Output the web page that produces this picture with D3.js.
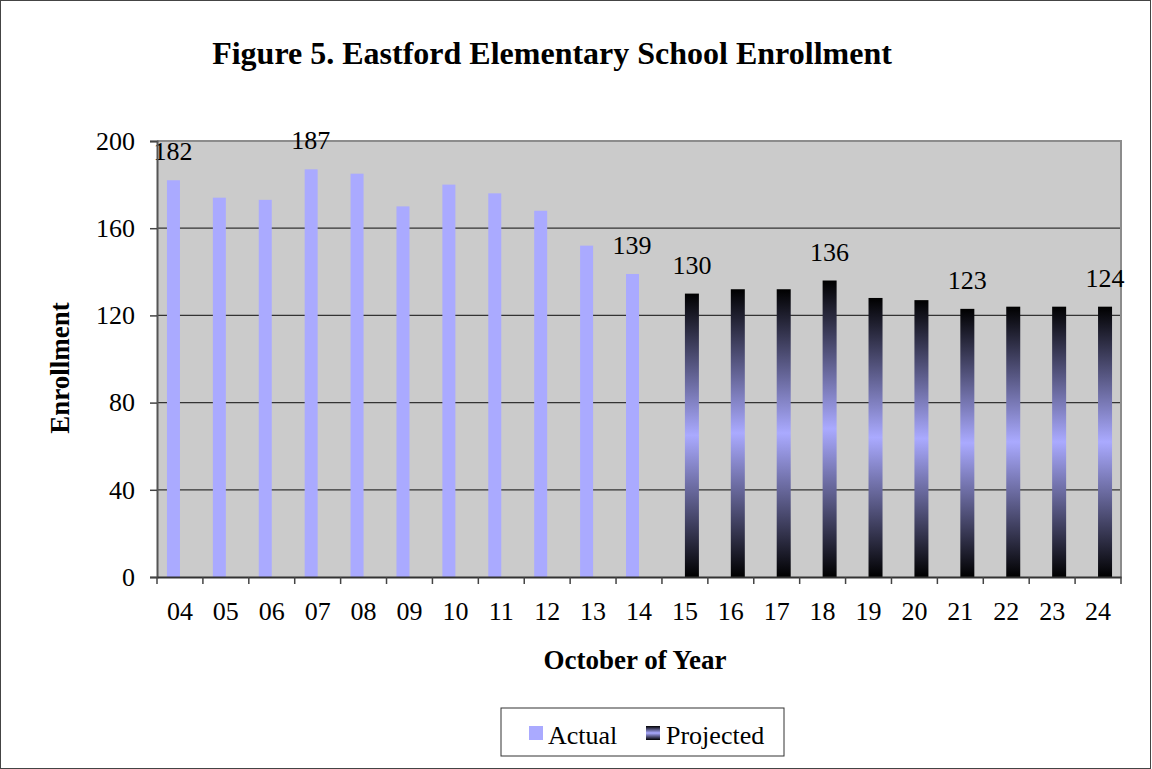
<!DOCTYPE html>
<html lang="en">
<head>
  <meta charset="utf-8" />
  <title>Eastford Elementary School Enrollment</title>
  <script src="https://d3js.org/d3.v7.min.js"></script>
  <style>
    body { margin: 0; background: #fff; }
    text { font-family: "Liberation Serif", "Times New Roman", serif; fill: #000; }
  </style>
</head>
<body>
<script>
  // data
  var years = ["04","05","06","07","08","09","10","11","12","13","14",
               "15","16","17","18","19","20","21","22","23","24"];
  var actual = [182,174,173,187,185,170,180,176,168,152,139,
                null,null,null,null,null,null,null,null,null,null];
  var projected = [null,null,null,null,null,null,null,null,null,null,null,
                   130,132,132,136,128,127,123,124,124,124];
  var labelled = ["04","07","14","15","18","21","24"];
  var yTicks = [0,40,80,120,160,200];

  var width = 1152, height = 769;
  var margin = {top: 141, left: 157, right: 1121, bottom: 577};

  var svg = d3.select("body").append("svg")
    .attr("width", width)
    .attr("height", height);

  var defs = svg.append("defs");
  var grad = defs.append("linearGradient")
    .attr("id", "projGrad")
    .attr("x1", 0).attr("y1", 0).attr("x2", 0).attr("y2", 1);
  grad.append("stop").attr("offset", "0%").attr("stop-color", "#000");
  grad.append("stop").attr("offset", "50%").attr("stop-color", "#aaaaff");
  grad.append("stop").attr("offset", "100%").attr("stop-color", "#000");

  // outer frame
  svg.append("rect")
    .attr("x", 0.5).attr("y", 0.5)
    .attr("width", width - 2).attr("height", height - 1)
    .attr("fill", "none").attr("stroke", "#444");

  var x = d3.scaleBand().domain(years).range([margin.left, margin.right]);
  var y = d3.scaleLinear().domain([0, 200]).range([margin.bottom, margin.top]);
  var barW = 14;

  // plot background
  svg.append("rect")
    .attr("x", margin.left).attr("y", margin.top)
    .attr("width", margin.right - margin.left)
    .attr("height", margin.bottom - margin.top)
    .attr("fill", "#cbcbcb");

  // gridlines
  svg.selectAll("line.grid")
    .data(yTicks.filter(function(d) { return d > 0 && d < 200; }))
    .enter().append("line")
    .attr("class", "grid")
    .attr("x1", margin.left).attr("x2", margin.right)
    .attr("y1", function(d) { return y(d); })
    .attr("y2", function(d) { return y(d); })
    .attr("stroke", "#333").attr("stroke-width", 1.2);

  // plot border top & right
  svg.append("path")
    .attr("d", "M" + margin.left + "," + margin.top + "H" + margin.right + "V" + margin.bottom)
    .attr("fill", "none").attr("stroke", "#8c8c8c").attr("stroke-width", 2);

  // bars
  svg.selectAll("rect.actual")
    .data(years.map(function(d, i) { return {yr: d, v: actual[i]}; }).filter(function(d) { return d.v != null; }))
    .enter().append("rect")
    .attr("class", "actual")
    .attr("x", function(d) { return x(d.yr) + x.bandwidth() / 2 - barW + 1; })
    .attr("y", function(d) { return y(d.v); })
    .attr("width", barW - 1)
    .attr("height", function(d) { return y(0) - y(d.v); })
    .attr("fill", "#aaaaff");

  svg.selectAll("rect.proj")
    .data(years.map(function(d, i) { return {yr: d, v: projected[i]}; }).filter(function(d) { return d.v != null; }))
    .enter().append("rect")
    .attr("class", "proj")
    .attr("x", function(d) { return x(d.yr) + x.bandwidth() / 2; })
    .attr("y", function(d) { return y(d.v); })
    .attr("width", barW)
    .attr("height", function(d) { return y(0) - y(d.v); })
    .attr("fill", "url(#projGrad)");

  // value labels
  var labelData = years.map(function(d, i) {
    var isA = actual[i] != null;
    return {yr: d, v: isA ? actual[i] : projected[i], a: isA};
  }).filter(function(d) { return labelled.indexOf(d.yr) >= 0; });

  svg.selectAll("text.val")
    .data(labelData)
    .enter().append("text")
    .attr("class", "val")
    .attr("x", function(d) { return x(d.yr) + x.bandwidth() / 2 + (d.a ? -barW / 2 : barW / 2); })
    .attr("y", function(d) { return y(d.v) - 20; })
    .attr("text-anchor", "middle")
    .style("font-size", "26px")
    .text(function(d) { return d.v; });

  // y axis
  var yAxis = svg.append("g")
    .attr("transform", "translate(" + margin.left + ",0)")
    .call(d3.axisLeft(y).tickValues(yTicks).tickSize(7).tickPadding(15));
  yAxis.select(".domain").attr("stroke", "#555").attr("stroke-width", 2);
  yAxis.selectAll(".tick line").attr("stroke", "#444").attr("stroke-width", 1.5);
  yAxis.selectAll(".tick text")
    .style("font-size", "26px")
    .style("font-family", "'Liberation Serif', serif")
    .attr("fill", "#000");

  // x axis
  var xAxis = svg.append("g")
    .attr("transform", "translate(0," + margin.bottom + ")")
    .call(d3.axisBottom(x).tickSize(0).tickPadding(25));
  xAxis.select(".domain").attr("stroke", "#333").attr("stroke-width", 2);
  xAxis.selectAll(".tick text")
    .style("font-size", "26px")
    .style("font-family", "'Liberation Serif', serif")
    .attr("fill", "#000");

  // x tick marks between categories
  svg.selectAll("line.xtick")
    .data(years.concat(["end"]))
    .enter().append("line")
    .attr("class", "xtick")
    .attr("x1", function(d, i) { return margin.left + i * x.step(); })
    .attr("x2", function(d, i) { return margin.left + i * x.step(); })
    .attr("y1", margin.bottom).attr("y2", margin.bottom + 7)
    .attr("stroke", "#444").attr("stroke-width", 1.5);

  // titles
  svg.append("text")
    .attr("x", 552).attr("y", 64)
    .attr("text-anchor", "middle")
    .style("font-size", "32px").style("font-weight", "bold")
    .text("Figure 5. Eastford Elementary School Enrollment");

  svg.append("text")
    .attr("transform", "translate(69,368) rotate(-90)")
    .attr("text-anchor", "middle")
    .style("font-size", "27px").style("font-weight", "bold")
    .text("Enrollment");

  svg.append("text")
    .attr("x", 635).attr("y", 669)
    .attr("text-anchor", "middle")
    .style("font-size", "27px").style("font-weight", "bold")
    .text("October of Year");

  // legend
  var lg = svg.append("g");
  lg.append("rect")
    .attr("x", 501).attr("y", 708).attr("width", 283).attr("height", 48)
    .attr("fill", "#fff").attr("stroke", "#333").attr("stroke-width", 1);
  lg.append("rect")
    .attr("x", 529).attr("y", 726).attr("width", 14).attr("height", 14)
    .attr("fill", "#aaaaff");
  lg.append("text")
    .attr("x", 548).attr("y", 744)
    .style("font-size", "26px").text("Actual");
  lg.append("rect")
    .attr("x", 646).attr("y", 726).attr("width", 14).attr("height", 14)
    .attr("fill", "url(#projGrad)");
  lg.append("text")
    .attr("x", 666).attr("y", 744)
    .style("font-size", "26px").text("Projected");
</script>
</body>
</html>
